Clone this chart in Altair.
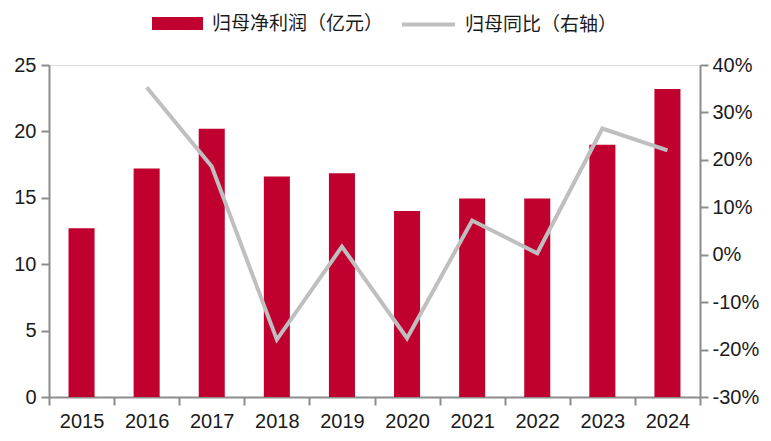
import altair as alt
import pandas as pd

years = ["2015", "2016", "2017", "2018", "2019", "2020", "2021", "2022", "2023", "2024"]
profit = [12.7, 17.2, 20.2, 16.6, 16.85, 14.0, 14.95, 14.95, 19.0, 23.2]
yoy = [None, 35.3, 18.6, -17.9, 1.7, -17.6, 7.2, 0.3, 26.6, 22.0]

bar_name = "归母净利润（亿元）"
line_name = "归母同比（右轴）"

df = pd.DataFrame({"year": years, "profit": profit, "yoy": yoy,
                   "s1": bar_name, "s2": line_name})

label_font = "Liberation Sans"
cjk_font = "Noto Sans CJK SC"
axis_gray = "#8c8c8c"
text_col = "#1a1a1a"

x = alt.X("year:N", sort=years, title=None,
          scale=alt.Scale(paddingInner=0, paddingOuter=0),
          axis=alt.Axis(labelAngle=0, tickBand="extent", domainColor=axis_gray,
                        tickColor=axis_gray, tickSize=8, tickWidth=2, domainWidth=2,
                        labelFont=label_font, labelFontSize=20, labelColor=text_col,
                        labelPadding=6, grid=False))

bars = alt.Chart(df).mark_bar(width=alt.RelativeBandSize(0.4)).encode(
    x=x,
    y=alt.Y("profit:Q", title=None,
            scale=alt.Scale(domain=[0, 25], nice=False),
            axis=alt.Axis(values=[0, 5, 10, 15, 20, 25], grid=False, domainColor=axis_gray,
                          tickColor=axis_gray, tickSize=8, tickWidth=2, domainWidth=2,
                          labelFont=label_font, labelFontSize=20, labelColor=text_col,
                          labelPadding=5)),
    color=alt.Color("s1:N", title=None,
                    scale=alt.Scale(domain=[bar_name], range=["#C0002F"]),
                    legend=alt.Legend(orient="none", legendX=103, legendY=-67,
                                      symbolType="M-1,-0.255H1V0.255H-1Z", symbolSize=2601,
                                      symbolStrokeWidth=0, labelLimit=0,
                                      labelFont=cjk_font, labelFontSize=19, labelColor=text_col,
                                      labelOffset=9)),
)

line = alt.Chart(df).mark_line(strokeWidth=4).encode(
    x=x,
    y=alt.Y("yoy:Q", title=None,
            scale=alt.Scale(domain=[-30, 40], nice=False),
            axis=alt.Axis(orient="right", values=[-30, -20, -10, 0, 10, 20, 30, 40],
                          labelExpr="datum.value + '%'", grid=False, domainColor=axis_gray,
                          tickColor=axis_gray, tickSize=8, tickWidth=2, domainWidth=2,
                          labelFont=label_font, labelFontSize=20, labelColor=text_col,
                          labelPadding=4)),
    stroke=alt.Stroke("s2:N", title=None,
                      scale=alt.Scale(domain=[line_name], range=["#BFBFBF"]),
                      legend=alt.Legend(orient="none", legendX=351, legendY=-69,
                                        symbolType="stroke", symbolSize=2809,
                                        symbolStrokeWidth=4, labelLimit=0,
                                        labelFont=cjk_font, labelFontSize=19, labelColor=text_col,
                                        labelOffset=8)),
)

chart = alt.layer(bars, line).resolve_scale(y="independent", color="independent", stroke="independent").properties(
    width=651, height=332,
    autosize=alt.AutoSizeParams(type="none"),
    padding={"left": 41, "top": 57, "right": 63, "bottom": 36},
).configure_view(strokeWidth=0).configure(background="white")

chart.save("out.html", embed_options={"renderer": "svg", "actions": False})
